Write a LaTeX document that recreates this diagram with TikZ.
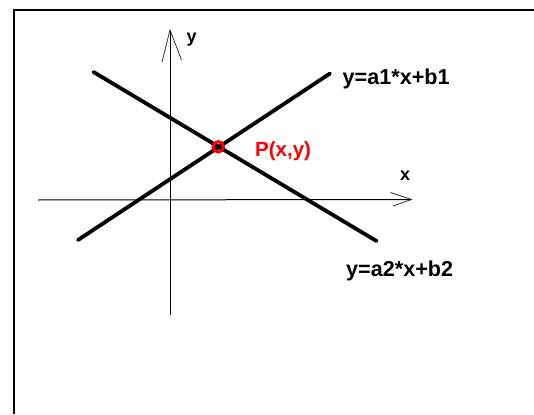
\documentclass[tikz,border=0pt]{standalone}
\usepackage{fontspec}
\setmainfont{Liberation Sans}
\begin{document}
\begin{tikzpicture}[x=1pt,y=-1pt,
  frameline/.style={line width=2pt,black},
  axisline/.style={line width=1pt,black},
  barbline/.style={line width=0.8pt,black!80},
  thickline/.style={line width=3.8pt,black,line cap=round},
  eqlabel/.style={font=\bfseries\fontsize{21.6}{25}\selectfont,inner sep=0pt,anchor=base west},
  plabel/.style={font=\bfseries\fontsize{20.5}{24}\selectfont,inner sep=0pt,anchor=base west,text=red},
  axlabel/.style={font=\bfseries\fontsize{18}{22}\selectfont,inner sep=0pt,anchor=base west},
  ptmark/.style={circle,draw=red,line width=3pt,minimum size=10.5pt,inner sep=0pt}]
\useasboundingbox (0,0) rectangle (534,414);
% frame
\coordinate (FB) at (14,414);
\coordinate (FC) at (14,10);
\coordinate (FR) at (534,10);
\draw[frameline] (FB) -- (FC) -- (FR);
% axes
\coordinate (XL) at (38,200);
\coordinate (XT) at (411.5,199.5);
\coordinate (XU) at (390.5,192.5);
\coordinate (XD) at (393,206);
\coordinate (YB) at (170,315);
\coordinate (YT) at (170,30);
\coordinate (YL) at (162,62);
\coordinate (YR) at (181.5,60);
\draw[axisline] (XL) -- (XT);
\draw[barbline] (XU) -- (XT) -- (XD);
\draw[axisline] (YB) -- (YT);
\draw[barbline] (YL) -- (YT) -- (YR);
% lines
\coordinate (L1a) at (78,240);
\coordinate (L1b) at (330,73.5);
\coordinate (L2a) at (93.5,72);
\coordinate (L2b) at (376.5,241);
\draw[thickline] (L1a) -- (L1b);
\draw[thickline] (L2a) -- (L2b);
% intersection point
\node[ptmark] (P) at (218.3,146.8) {};
% labels
\node[eqlabel] (eq1) at (342.5,85) {y=a1*x+b1};
\node[eqlabel] (eq2) at (346,276) {y=a2*x+b2};
\node[plabel] (plab) at (255,156.7) {P(x,y)};
\node[axlabel] (xlab) at (400,180.5) {x};
\node[axlabel] (ylab) at (186.5,42.5) {y};
\end{tikzpicture}
\end{document}
